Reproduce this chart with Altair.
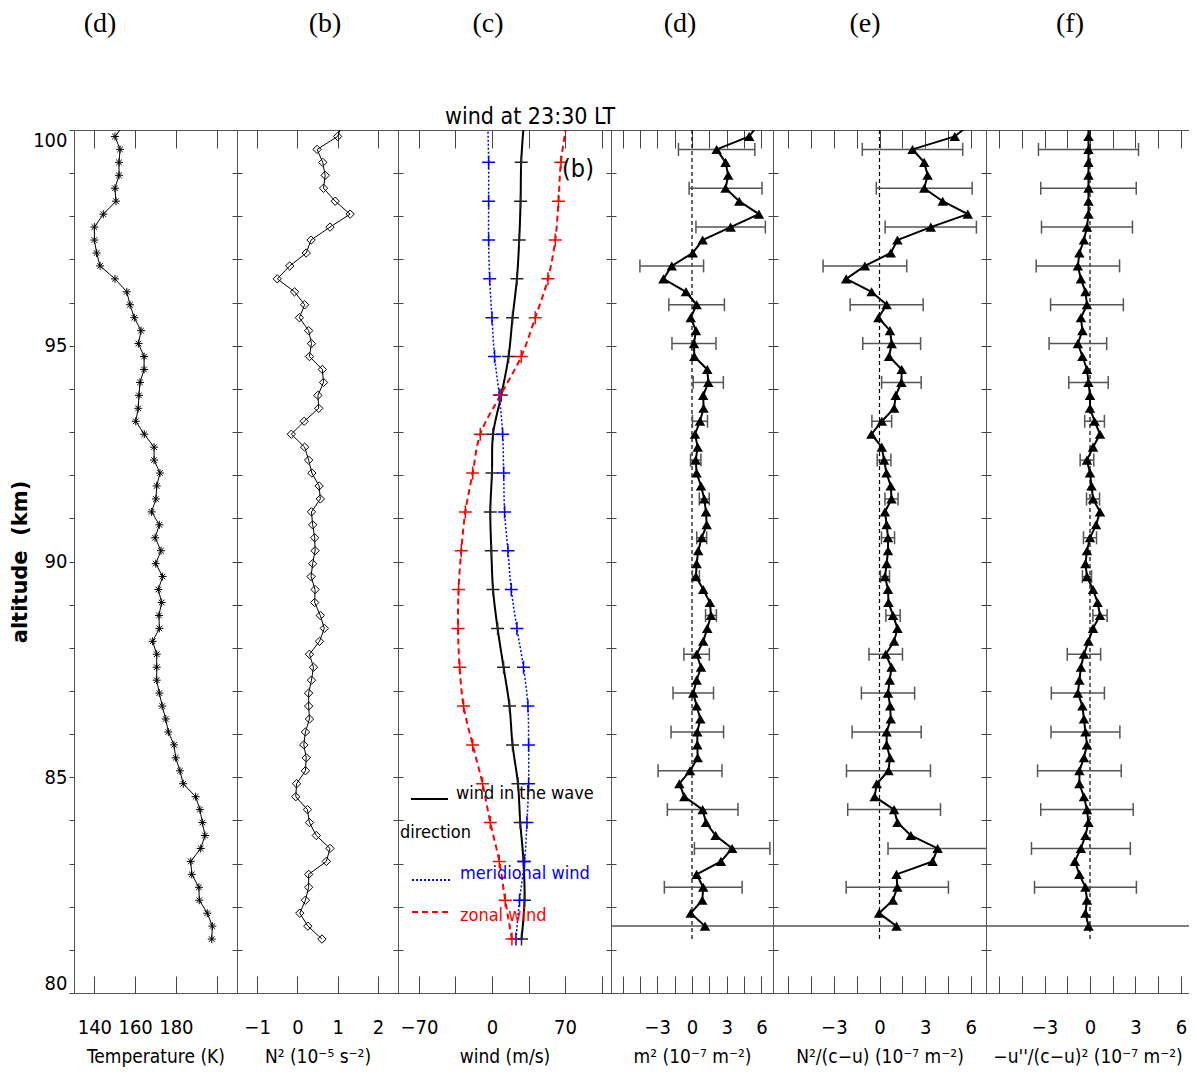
import altair as alt
import pandas as pd

FONT = "'Liberation Sans Narrow', 'DejaVu Sans Condensed', 'Liberation Sans', sans-serif"
SERIF = "'Liberation Serif', 'DejaVu Serif', serif"

# ---------------- data ----------------
alt_grid = [81.25, 81.55, 81.85, 82.15, 82.45, 82.75, 83.05, 83.35, 83.65, 83.95,
            84.25, 84.55, 84.85, 85.15, 85.45, 85.75, 86.05, 86.35, 86.65, 86.95,
            87.25, 87.55, 87.85, 88.15, 88.45, 88.75, 89.05, 89.35, 89.65, 89.95,
            90.25, 90.55, 90.85, 91.15, 91.45, 91.75, 92.05, 92.35, 92.65, 92.95,
            93.25, 93.55, 93.85, 94.15, 94.45, 94.75, 95.05, 95.35, 95.65, 95.95,
            96.25, 96.55, 96.85, 97.15, 97.45, 97.75, 98.05, 98.35, 98.65, 98.95,
            99.25, 99.55, 99.85, 100.15]

temperature = [197.6, 197.9, 195.4, 191.5, 191.3, 187.8, 187.3, 192.2, 194.3, 193.0,
               191.8, 189.7, 183.6, 182.0, 179.9, 179.1, 176.3, 175.0, 173.3, 171.9,
               170.6, 170.6, 170.6, 168.6, 171.9, 171.7, 173.0, 171.4, 173.5, 170.1,
               172.7, 169.8, 171.9, 168.1, 170.2, 170.6, 172.2, 169.3, 169.3, 164.5,
               160.3, 161.5, 161.9, 162.4, 164.4, 164.4, 161.6, 162.9, 159.6, 157.5,
               155.9, 150.1, 142.8, 141.1, 140.0, 140.0, 144.4, 150.6, 150.1, 152.1,
               152.1, 152.6, 150.1, 155.0]

n2 = [0.61, 0.26, 0.06, 0.20, 0.28, 0.28, 0.72, 0.81, 0.47, 0.30,
      0.25, -0.04, -0.02, 0.20, 0.22, 0.16, 0.20, 0.30, 0.28, 0.28,
      0.35, 0.40, 0.30, 0.55, 0.67, 0.57, 0.43, 0.44, 0.34, 0.38,
      0.44, 0.43, 0.38, 0.35, 0.57, 0.54, 0.36, 0.28, 0.18, -0.15,
      0.17, 0.53, 0.51, 0.65, 0.62, 0.30, 0.35, 0.28, 0.05, 0.18,
      -0.07, -0.50, -0.19, 0.22, 0.34, 0.81, 1.31, 0.94, 0.65, 0.69,
      0.63, 0.49, 1.00, 1.12]

wind_alt = [81.25, 82.15, 83.05, 83.95, 84.85, 85.75, 86.65, 87.55, 88.45, 89.35,
            90.25, 91.15, 92.05, 92.95, 93.85, 94.75, 95.65, 96.55, 97.45, 98.35,
            99.25, 100.15]
wind_dir = [28.3, 31.2, 30.2, 27.1, 24.9, 19.7, 16.8, 11.1, 5.4, 1.0,
            -0.6, -1.6, 0.0, 1.0, 8.9, 15.9, 19.7, 23.9, 26.1, 27.4, 28.0, 30.5]
wind_mer = [23.0, 26.4, 31.2, 33.5, 35.1, 35.1, 34.4, 30.2, 23.9, 18.5,
            15.3, 12.1, 11.2, 10.2, 7.0, 2.5, 0.0, -2.2, -3.2, -3.2, -3.2, -4.0]
wind_zon = [19.1, 12.7, 7.0, -1.6, -9.0, -18.5, -27.2, -31.0, -32.5, -32.0,
            -29.4, -25.5, -18.5, -11.2, 8.0, 28.0, 41.4, 53.6, 60.6, 63.7, 66.0, 71.5]

# panels (d)-(f): values at alt_grid[1:]
m2 = [1.12, -0.11, 0.89, 0.97, 0.40, 2.50, 3.47, 2.04, 1.21, 0.92,
      -0.66, -1.09, -0.17, 0.49, 0.46, 0.46, 0.72, 0.40, 0.11, 0.40,
      0.78, 0.40, 0.97, 1.32, 1.64, 1.55, 0.97, 0.34, 0.40, 0.54,
      0.84, 1.27, 1.21, 1.06, 0.78, 0.40, 0.32, 0.49, 0.26, 0.69,
      1.00, 0.97, 1.41, 1.32, 0.20, 0.17, 0.34, -0.11, 0.40, -0.52,
      -2.47, -1.75, 0.06, 0.92, 3.34, 5.78, 4.08, 2.90, 3.13, 2.90,
      2.13, 4.94, 5.80]
n2cu = [1.12, -0.03, 0.88, 1.17, 1.12, 3.49, 3.82, 2.06, 1.18, 0.96,
        -0.32, -0.18, 0.59, 0.69, 0.47, 0.47, 0.74, 0.70, 0.56, 0.67,
        0.79, 0.41, 0.96, 1.18, 0.89, 0.59, 0.56, 0.36, 0.47, 0.56,
        0.56, 0.47, 0.36, 0.79, 0.74, 0.46, 0.30, 0.15, -0.53, 0.15,
        0.96, 1.07, 1.44, 1.46, 0.63, 0.80, 0.69, -0.07, 0.47, -0.52,
        -2.19, -0.96, 0.74, 1.18, 3.37, 5.80, 4.15, 2.94, 3.16, 2.94,
        2.17, 4.95, 6.00]
uxx = [-0.1, -0.3, -0.2, -0.3, -0.7, -1.0, -0.6, -0.3, -0.1, -0.2,
       -0.4, -0.7, -0.7, -0.4, -0.2, -0.3, -0.4, -0.5, -0.8, -0.7,
       -0.6, -0.4, -0.1, 0.2, 0.66, 0.5, 0.2, -0.2, -0.3, -0.2,
       0.0, 0.4, 0.66, 0.2, 0.1, 0.0, -0.2, 0.2, 0.66, 0.3,
       0.0, 0.0, -0.1, -0.2, -0.5, -0.8, -0.5, -0.6, -0.2, -0.3,
       -0.6, -0.8, -0.7, -0.4, -0.2, -0.1, -0.1, -0.1, -0.1, -0.1,
       -0.1, -0.1, -0.1]
# error half-widths at every third level (alt_grid[1], alt_grid[4], ...)
err_half = [20.0, 3.36, 3.26, 3.05, 2.76, 2.27, 1.75, 1.10, 0.47, 0.30, 0.43,
            0.43, 0.45, 0.65, 1.30, 1.90, 2.40, 2.75, 3.00, 3.15, 3.30]

panel_labels = ["(d)", "(b)", "(c)", "(d)", "(e)", "(f)"]
x_titles = ["Temperature (K)", "N\u00b2 (10\u207b\u2075 s\u207b\u00b2)", "wind (m/s)",
            "m\u00b2 (10\u207b\u2077 m\u207b\u00b2)",
            "N\u00b2/(c\u2212u) (10\u207b\u2077 m\u207b\u00b2)",
            "\u2212u''/(c\u2212u)\u00b2 (10\u207b\u2077 m\u207b\u00b2)"]
legend_names = ["wind in the wave", "direction", "meridional wind", "zonal wind"]

# ---------------- styling helpers ----------------
H = 863
AX = "#444"
YS = alt.Scale(domain=[80, 100], nice=False, zero=False)
Y_TICKS = list(range(80, 101))
ASTER = "M-1,0L1,0M0,-1L0,1M-0.7,-0.7L0.7,0.7M-0.7,0.7L0.7,-0.7"
PLUS = "M-1,0L1,0M0,-1L0,1"


def xsc(dom):
    return alt.Scale(domain=dom, nice=False, zero=False)


def ax_bottom(values, expr, title):
    return alt.Axis(orient="bottom", values=values, labelExpr=expr, offset=-17, tickSize=17,
                    tickColor=AX, tickWidth=1, domain=False, grid=False, labelFont=FONT,
                    labelFontSize=20, labelColor="black", labelPadding=24, labelOverlap=False,
                    labelFlush=False, title=title, titleFont=FONT, titleFontSize=19,
                    titleFontWeight="normal", titleColor="black", titlePadding=10)


def ax_top(values):
    return alt.Axis(orient="top", values=values, offset=-18, tickSize=18, tickColor=AX,
                    tickWidth=1, domain=False, grid=False, labels=False, title=None)


def ax_left(first):
    if first:
        return alt.Axis(orient="left", values=Y_TICKS,
                        labelExpr="datum.value % 5 == 0 ? datum.label : ''",
                        tickSize=5, tickColor=AX, domain=False, grid=False, labelFont=FONT,
                        labelFontSize=20, labelColor="black", labelPadding=2, labelFlush=True,
                        labelOverlap=False, title="altitude\u00a0\u00a0(km)",
                        titleFont="DejaVu Sans", titleFontSize=21, titleFontWeight="bold",
                        titleColor="black", titlePadding=2)
    return alt.Axis(orient="left", values=Y_TICKS, tickSize=5, tickColor=AX, domain=False,
                    grid=False, labels=False, title=None)


def ax_right():
    return alt.Axis(orient="right", values=Y_TICKS, tickSize=5, tickColor=AX, domain=False,
                    grid=False, labels=False, title=None)


def label_layer(text, xpos):
    return alt.Chart(pd.DataFrame({"t": [text]})).mark_text(
        font=SERIF, fontSize=28, align="center", baseline="alphabetic", color="black"
    ).encode(text="t:N", x=alt.value(xpos), y=alt.value(-98))


def text_layer(text, xpos, ypos, size, color="black", align="left"):
    return alt.Chart(pd.DataFrame({"t": [text]})).mark_text(
        font=FONT, fontSize=size, align=align, baseline="alphabetic", color=color
    ).encode(text="t:N", x=alt.value(xpos), y=alt.value(ypos))


def finish(layers, width):
    return alt.layer(*layers).resolve_axis(x="independent", y="independent").properties(
        width=width, height=H)


# ---------------- panel 1: temperature ----------------
xs1 = xsc([130, 210])
df_T = pd.DataFrame({"alt": alt_grid, "T": temperature})
p1 = finish([
    alt.Chart(df_T).mark_line(color="black", strokeWidth=1, clip=True).encode(
        x=alt.X("T:Q", scale=xs1, axis=ax_bottom([140, 160, 180, 200],
                "datum.value < 195 ? datum.label : ''", x_titles[0])),
        y=alt.Y("alt:Q", scale=YS, axis=ax_left(True)), order="alt:Q"),
    alt.Chart(df_T).mark_point(shape=ASTER, size=64, filled=False, color="black",
                               strokeWidth=1, opacity=1, clip=True).encode(
        x=alt.X("T:Q", scale=xs1, axis=ax_top([140, 160, 180, 200])),
        y=alt.Y("alt:Q", scale=YS, axis=ax_right())),
    label_layer(panel_labels[0], 26),
], 163)

# ---------------- panel 2: N^2 ----------------
xs2 = xsc([-1.5, 2.5])
df_N = pd.DataFrame({"alt": alt_grid, "N": n2})
p2 = finish([
    alt.Chart(df_N).mark_line(color="black", strokeWidth=1, clip=True).encode(
        x=alt.X("N:Q", scale=xs2, axis=ax_bottom([-1, 0, 1, 2], "datum.label", x_titles[1])),
        y=alt.Y("alt:Q", scale=YS, axis=ax_left(False)), order="alt:Q"),
    alt.Chart(df_N).mark_point(shape="diamond", size=70, filled=False, color="black",
                               strokeWidth=1, opacity=1, clip=True).encode(
        x=alt.X("N:Q", scale=xs2, axis=ax_top([-1, 0, 1, 2])),
        y=alt.Y("alt:Q", scale=YS, axis=ax_right())),
    label_layer(panel_labels[1], 88),
], 161)

# ---------------- panel 3: wind ----------------
xs3 = xsc([-90, 114])
df_w = pd.DataFrame({"alt": wind_alt, "dir": wind_dir, "mer": wind_mer, "zon": wind_zon})
df_wm = df_w.iloc[:-1]
wv = [-70, -35, 0, 35, 70, 105]
one = pd.DataFrame({"a": [0]})
p3 = finish([
    alt.Chart(df_w).mark_line(color="black", strokeWidth=2, interpolate="catmull-rom",
                              clip=True).encode(
        x=alt.X("dir:Q", scale=xs3, axis=ax_bottom(wv,
                "abs(datum.value) % 70 == 0 ? datum.label : ''", x_titles[2])),
        y=alt.Y("alt:Q", scale=YS, axis=ax_left(False)), order="alt:Q"),
    alt.Chart(df_w).mark_line(color="#0000ff", strokeWidth=1.5, strokeDash=[2, 2],
                              interpolate="catmull-rom", clip=True).encode(
        x=alt.X("mer:Q", scale=xs3, axis=ax_top(wv)),
        y=alt.Y("alt:Q", scale=YS, axis=ax_right()), order="alt:Q"),
    alt.Chart(df_w).mark_line(color="#ff0000", strokeWidth=2, strokeDash=[6, 4],
                              interpolate="catmull-rom", clip=True).encode(
        x=alt.X("zon:Q", scale=xs3, axis=None),
        y=alt.Y("alt:Q", scale=YS, axis=None), order="alt:Q"),
    alt.Chart(df_wm).mark_point(shape=PLUS, size=169, filled=False, color="#222",
                                strokeWidth=1.5, opacity=1, clip=True).encode(
        x=alt.X("dir:Q", scale=xs3, axis=None), y=alt.Y("alt:Q", scale=YS, axis=None)),
    alt.Chart(df_wm).mark_point(shape=PLUS, size=169, filled=False, color="#0000ff",
                                strokeWidth=1.5, opacity=1, clip=True).encode(
        x=alt.X("mer:Q", scale=xs3, axis=None), y=alt.Y("alt:Q", scale=YS, axis=None)),
    alt.Chart(df_wm).mark_point(shape=PLUS, size=169, filled=False, color="#ff0000",
                                strokeWidth=1.5, opacity=1, clip=True).encode(
        x=alt.X("zon:Q", scale=xs3, axis=None), y=alt.Y("alt:Q", scale=YS, axis=None)),
    # legend
    alt.Chart(one).mark_rule(color="black", strokeWidth=2).encode(
        x=alt.value(13), x2=alt.value(50), y=alt.value(669)),
    alt.Chart(one).mark_rule(color="#0000ff", strokeWidth=2, strokeDash=[2, 2]).encode(
        x=alt.value(14), x2=alt.value(52), y=alt.value(750)),
    alt.Chart(one).mark_rule(color="#ff0000", strokeWidth=2, strokeDash=[6, 4]).encode(
        x=alt.value(14), x2=alt.value(52), y=alt.value(782)),
    text_layer(legend_names[0], 58, 669, 18),
    text_layer(legend_names[1], 2, 708, 18),
    text_layer(legend_names[2], 62, 749, 18, color="#0000ff"),
    text_layer(legend_names[3], 62, 791, 18, color="#ff0000"),
    text_layer("wind at 23:30 LT", 132, -6, 23, align="center"),
    text_layer("(b)", 180, 47, 25, align="center"),
    label_layer(panel_labels[2], 90),
], 213)


# ---------------- panels 4-6 ----------------
def tri_panel(series, width, xdom, title, lab, labx, right=True):
    xs = xsc(xdom)
    vals = [-6, -4.5, -3, -1.5, 0, 1.5, 3, 4.5, 6]
    expr = "datum.value >= -3 && datum.value % 3 == 0 ? datum.label : ''"
    df = pd.DataFrame({"alt": alt_grid[1:], "v": series})
    err = pd.DataFrame({"alt": alt_grid[1::3], "c": series[0::3], "h": err_half})
    zero = pd.DataFrame({"x": [0.0], "y1": [81.25], "y2": [100.0]})
    layers = [
        alt.Chart(zero).mark_rule(color="black", strokeWidth=1.2, strokeDash=[4, 3]).encode(
            x=alt.X("x:Q", scale=xs, axis=None), y=alt.Y("y1:Q", scale=YS, axis=None),
            y2="y2:Q"),
        alt.Chart(err).transform_calculate(lo="datum.c - datum.h", hi="datum.c + datum.h")
        .mark_rule(color="#555", strokeWidth=1.5, clip=True).encode(
            x=alt.X("lo:Q", scale=xs, axis=None), x2="hi:Q",
            y=alt.Y("alt:Q", scale=YS, axis=None)),
        alt.Chart(err).transform_calculate(lo="datum.c - datum.h")
        .mark_tick(orient="vertical", size=13, thickness=1.5, color="#555", opacity=1,
                   clip=True).encode(
            x=alt.X("lo:Q", scale=xs, axis=None), y=alt.Y("alt:Q", scale=YS, axis=None)),
        alt.Chart(err).transform_calculate(hi="datum.c + datum.h")
        .mark_tick(orient="vertical", size=13, thickness=1.5, color="#555", opacity=1,
                   clip=True).encode(
            x=alt.X("hi:Q", scale=xs, axis=None), y=alt.Y("alt:Q", scale=YS, axis=None)),
        alt.Chart(df).mark_line(color="black", strokeWidth=2, clip=True).encode(
            x=alt.X("v:Q", scale=xs, axis=ax_bottom(vals, expr, title)),
            y=alt.Y("alt:Q", scale=YS, axis=ax_left(False)), order="alt:Q"),
        alt.Chart(df).mark_point(shape="triangle-up", size=110, filled=True, color="black",
                                 opacity=1, clip=True).encode(
            x=alt.X("v:Q", scale=xs, axis=ax_top(vals)),
            y=alt.Y("alt:Q", scale=YS, axis=ax_right() if right else None)),
        label_layer(lab, labx),
    ]
    return finish(layers, width)


p4 = tri_panel(m2, 162, [-7, 7], x_titles[3], panel_labels[3], 69)
p5 = tri_panel(n2cu, 213, [-7, 7], x_titles[4], panel_labels[4], 92)
p6 = tri_panel(uxx, 203, [-6.86, 6.53], x_titles[5], panel_labels[5], 84, right=False)

chart = alt.hconcat(p1, p2, p3, p4, p5, p6, spacing=0, bounds="flush").properties(
    autosize=alt.AutoSizeParams(type="none"),
    padding={"left": 66, "top": 122, "right": 1115, "bottom": 938},
    background="white",
).configure_view(stroke="#555", strokeWidth=1)

chart.save("out.html", embed_options={"renderer": "svg", "actions": False})
